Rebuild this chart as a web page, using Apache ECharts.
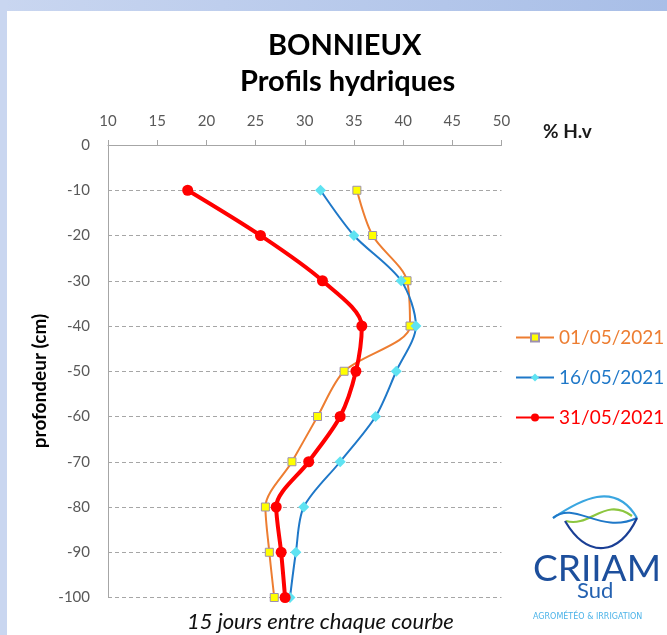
<!DOCTYPE html>
<html>
<head>
<meta charset="utf-8">
<script src="https://cdn.jsdelivr.net/npm/echarts@6/dist/echarts.min.js"></script>
<style>
html,body{margin:0;padding:0;width:667px;height:635px;overflow:hidden;background:#fff;}
#chart{width:667px;height:635px;}
</style>
</head>
<body>
<div id="chart"></div>
<script>
// Depths (cm)
const depths = [-10, -20, -30, -40, -50, -60, -70, -80, -90, -100];
// % H.v values per date
const s0105 = [35.3, 36.9, 40.4, 40.7, 34.0, 31.3, 28.7, 26.0, 26.4, 26.9];
const s1605 = [31.6, 35.0, 39.8, 41.3, 39.3, 37.2, 33.6, 29.9, 29.1, 28.5];
const s3105 = [18.1, 25.5, 31.8, 35.8, 35.2, 33.6, 30.4, 27.1, 27.6, 28.0];
const seriesNames = ['01/05/2021', '16/05/2021', '31/05/2021'];
const xTicks = [10, 15, 20, 25, 30, 35, 40, 45, 50];
const yTicks = [0, -10, -20, -30, -40, -50, -60, -70, -80, -90, -100];

const pair = arr => arr.map((v, i) => [v, depths[i]]);
const colors = ['#ED7D31', '#1F78C8', '#FF0000'];
const FONT = 'Lato, "Open Sans", sans-serif';

const chart = echarts.init(document.getElementById('chart'), null, {renderer: 'canvas'});
chart.setOption({
  animation: false,
  backgroundColor: '#ffffff',
  textStyle: {fontFamily: FONT},
  graphic: [
    {type: 'rect', z: -10, silent: true, shape: {x: 0, y: 0, width: 667, height: 11},
     style: {fill: new echarts.graphic.LinearGradient(0, 0, 1, 0, [{offset: 0, color: '#c9d6f0'}, {offset: 1, color: '#a8bee7'}])}},
    {type: 'rect', z: -10, silent: true, shape: {x: 0, y: 0, width: 7, height: 635},
     style: {fill: '#c9d6f0'}},
    {type: 'text', left: 268, top: 31, style: {text: 'BONNIEUX', font: 'bold 29px ' + FONT, fill: '#000'}},
    {type: 'text', left: 240, top: 67, style: {text: 'Profils hydriques', font: 'bold 29px ' + FONT, fill: '#000'}},
    {type: 'text', left: 543, top: 122, style: {text: '% H.v', font: 'bold 19px ' + FONT, fill: '#1a1a1a'}},
    {type: 'text', x: 40, y: 381, rotation: Math.PI / 2,
     style: {text: 'profondeur (cm)', font: 'bold 19px ' + FONT, fill: '#000', align: 'center', verticalAlign: 'middle'}},
    {type: 'text', left: 187, top: 611, style: {text: '15 jours entre chaque courbe', font: 'italic 22px ' + FONT, fill: '#111'}},
    // logo waves
    {type: 'bezierCurve', shape: {x1: 553, y1: 518, x2: 637, y2: 518, cpx1: 580, cpy1: 500, cpx2: 615, cpy2: 480}, style: {stroke: '#3aa6e0', lineWidth: 2.2, fill: null}},
    {type: 'bezierCurve', shape: {x1: 566, y1: 521, x2: 632, y2: 516, cpx1: 590, cpy1: 528, cpx2: 605, cpy2: 496}, style: {stroke: '#8cc63f', lineWidth: 2.2, fill: null}},
    {type: 'bezierCurve', shape: {x1: 553, y1: 518, x2: 637, y2: 518, cpx1: 575, cpy1: 500, cpx2: 600, cpy2: 535}, style: {stroke: '#1f78c8', lineWidth: 2, fill: null}},
    {type: 'bezierCurve', shape: {x1: 565, y1: 521, x2: 637, y2: 518, cpx1: 588, cpy1: 560, cpx2: 620, cpy2: 555}, style: {stroke: '#1a3f95', lineWidth: 2.2, fill: null}},
    {type: 'text', left: 533, top: 551, style: {text: 'CRIIAM', font: '37px ' + FONT, fill: '#1d4f9c'}},
    {type: 'text', left: 577, top: 580, style: {text: 'Sud', font: '22px ' + FONT, fill: '#2461b0'}},
    {type: 'text', left: 533, top: 613, style: {text: 'AGROMÉTÉO & IRRIGATION', font: '8px "DejaVu Sans", sans-serif', fill: '#4cb3e8'}}
  ],
  grid: {left: 108, top: 145, width: 393.5, height: 452.5, containLabel: false},
  legend: {
    orient: 'vertical', left: 515, top: 328, itemGap: 21, itemWidth: 38, itemHeight: 10,
    selectedMode: false, padding: 0,
    data: seriesNames.map((n, i) => ({name: n, textStyle: {color: colors[i], fontSize: 19, fontFamily: FONT}}))
  },
  xAxis: {
    type: 'value', position: 'top', min: xTicks[0], max: xTicks[xTicks.length - 1], interval: 5,
    axisLine: {show: true, lineStyle: {color: '#a6a6a6', width: 1}},
    axisTick: {show: true, length: 5, inside: false, lineStyle: {color: '#a6a6a6'}},
    axisLabel: {color: '#595959', fontSize: 15, margin: 16, fontFamily: FONT},
    splitLine: {show: false}
  },
  yAxis: {
    type: 'value', min: yTicks[yTicks.length - 1], max: yTicks[0], interval: 10,
    axisLine: {show: true, lineStyle: {color: '#a6a6a6', width: 1}},
    axisTick: {show: false},
    axisLabel: {color: '#595959', fontSize: 15, margin: 18, fontFamily: FONT},
    splitLine: {show: true, lineStyle: {color: '#a6a6a6', type: [4, 3], width: 1}}
  },
  series: [
    {name: seriesNames[0], type: 'line', data: pair(s0105), smooth: 0.3,
     lineStyle: {color: colors[0], width: 2}, itemStyle: {color: '#ffff00', borderColor: '#9d8fb0', borderWidth: 1},
     symbol: 'rect', symbolSize: 8, z: 2},
    {name: seriesNames[1], type: 'line', data: pair(s1605), smooth: 0.3,
     lineStyle: {color: colors[1], width: 2}, itemStyle: {color: '#5fe3f2', borderWidth: 0},
     symbol: 'diamond', symbolSize: 11, z: 3},
    {name: seriesNames[2], type: 'line', data: pair(s3105), smooth: 0.3,
     lineStyle: {color: colors[2], width: 4}, itemStyle: {color: '#ff0000', borderWidth: 0},
     symbol: 'circle', symbolSize: 11, z: 4}
  ]
});
</script>
</body>
</html>
